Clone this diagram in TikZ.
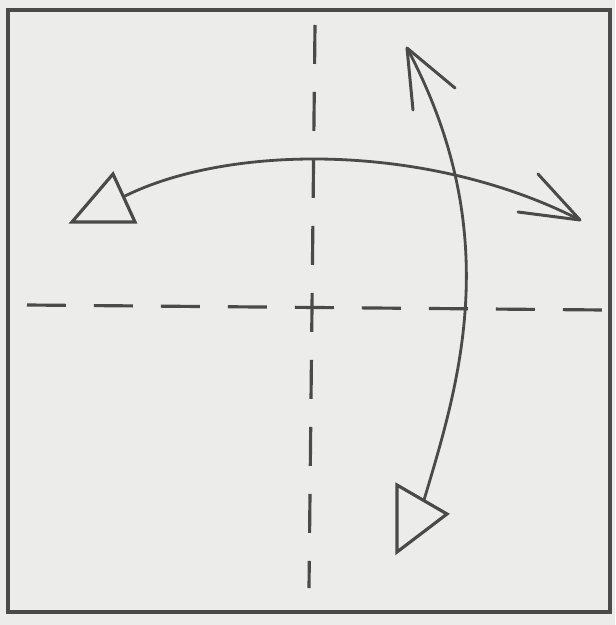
\documentclass[tikz,border=0pt]{standalone}
\usepackage{tikz}
\usetikzlibrary{calc}
\definecolor{paperGrey}{HTML}{ECECEA}
\definecolor{inkDark}{HTML}{4A4A4A}
\tikzset{
  sheet/.style={draw=inkDark, line width=1.8pt},
  crease/.style={draw=inkDark, line width=1.8pt, dash pattern=on 0.78cm off 0.56cm},
  foldarc/.style={draw=inkDark, line width=1.6pt},
  headv/.style={draw=inkDark, line width=1.7pt, line cap=round, line join=round},
  headtri/.style={draw=inkDark, line width=1.8pt, line join=miter, fill=paperGrey},
}

\begin{document}
\begin{tikzpicture}[x=0.02cm, y=-0.02cm]
  \fill[paperGrey] (0,0) rectangle (615,625);
  \useasboundingbox (0,0) rectangle (615,625);
  % the square
  \draw[sheet] (8,10) rectangle (610,612);
  % creases
  \coordinate (vtop) at (315,25);
  \coordinate (vbot) at (309,588);
  \coordinate (hleft) at (27,305);
  \coordinate (hright) at (604,310);
  \draw[crease] (vtop) -- (vbot);
  \draw[crease] (hleft) -- (hright);
  % left-right fold arrow
  \coordinate (lend) at (123,197);
  \coordinate (rtip) at (580,220);
  \draw[foldarc] (lend) .. controls (230,143) and (430,143) .. (rtip);
  \draw[headv] (538,174) -- (rtip) -- (518,212);
  \draw[headtri] (72,222) -- (135,222) -- (113,174) -- cycle;
  % up-down fold arrow
  \coordinate (ttip) at (407,48);
  \coordinate (bend) at (424,500);
  \draw[foldarc] (ttip) .. controls (506,234) and (459,383) .. (bend);
  \draw[headv] (455,88) -- (ttip) -- (413,110);
  \draw[headtri] (397,485) -- (447,514) -- (397,552) -- cycle;
\end{tikzpicture}
\end{document}
